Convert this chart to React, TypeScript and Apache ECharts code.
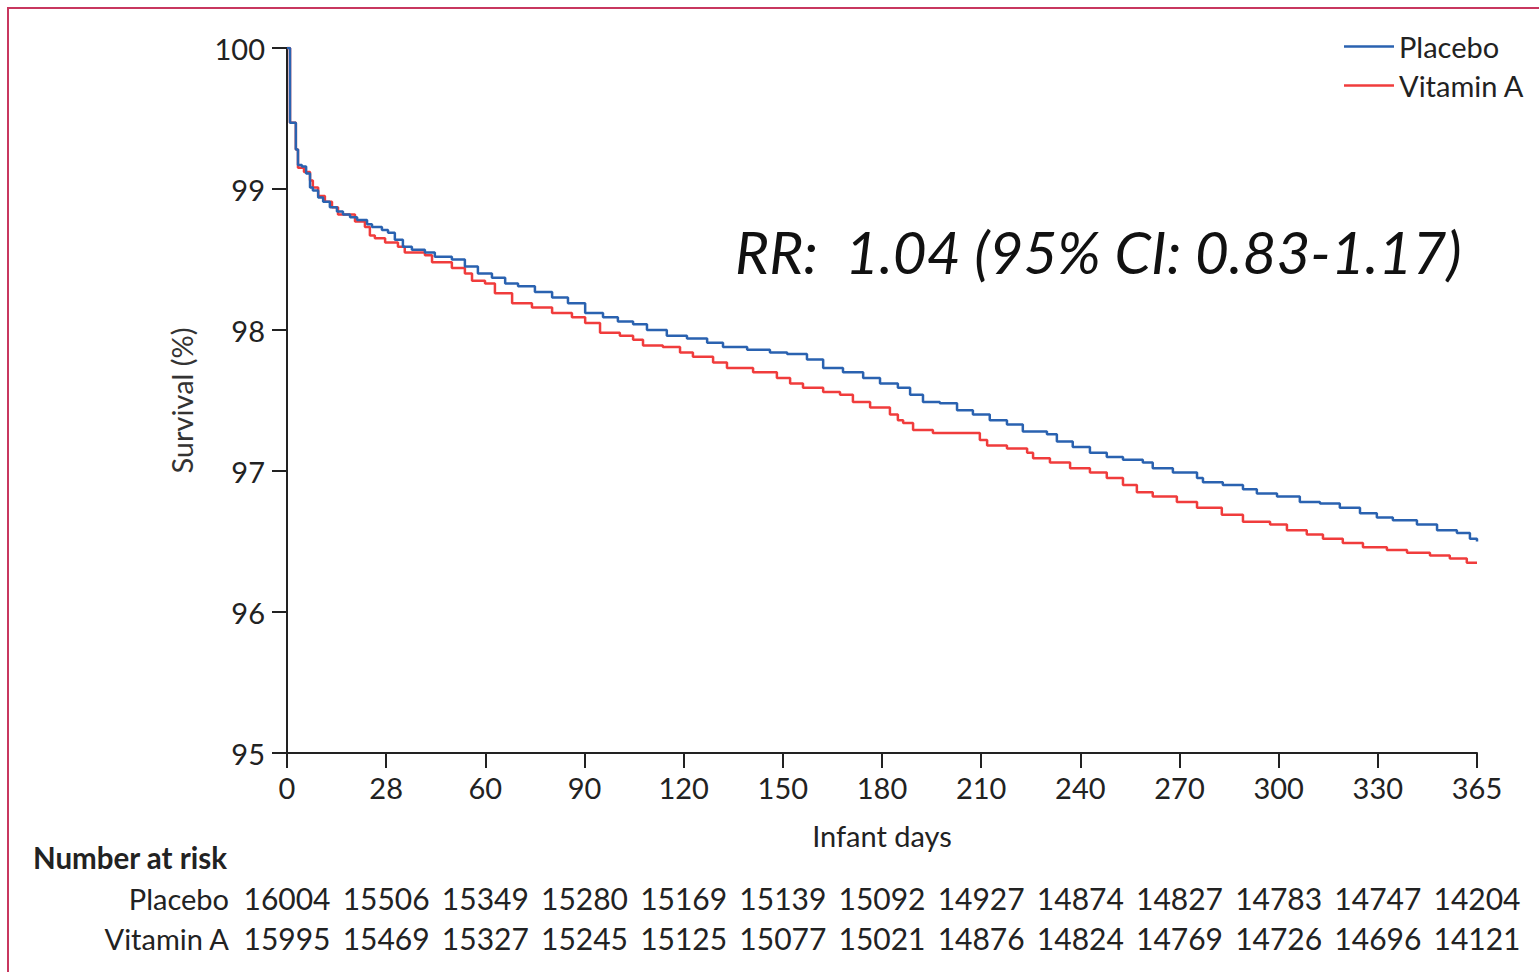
import React, { useEffect, useRef } from "react";
import * as echarts from "echarts";

// x-axis ticks (days) — drawn equally spaced, as in the reference
const tickDays = [0, 28, 60, 90, 120, 150, 180, 210, 240, 270, 300, 330, 365];
const yTicks = [95, 96, 97, 98, 99, 100];

const placeboAtRisk = [16004, 15506, 15349, 15280, 15169, 15139, 15092, 14927, 14874, 14827, 14783, 14747, 14204];
const vitaminAAtRisk = [15995, 15469, 15327, 15245, 15125, 15077, 15021, 14876, 14824, 14769, 14726, 14696, 14121];

// Kaplan–Meier estimates (day, survival %)
const placeboDays = [0, 0.85, 2.5, 3.1, 4.2, 5.4, 6.5, 7.3, 8.8, 10.2, 12.1, 14.1, 15.8, 17.8, 19.8, 22.6, 24.0, 26.8, 28.6, 30.8, 33.4, 36.3, 40.5, 43.7, 49.2, 53.4, 57.6, 62.0, 66.0, 69.9, 75.0, 80.2, 85.0, 90.2, 95.6, 100.1, 104.7, 108.9, 114.9, 121.0, 127.1, 131.9, 139.2, 146.1, 151.3, 157.3, 162.2, 168.2, 174.3, 179.4, 184.8, 188.5, 192.4, 197.5, 202.7, 207.5, 212.6, 217.8, 222.6, 229.9, 232.9, 237.7, 242.9, 248.0, 252.9, 258.9, 261.9, 268.0, 275.3, 277.1, 283.1, 289.2, 293.4, 299.5, 306.4, 312.5, 318.5, 324.6, 329.7, 335.3, 343.8, 350.9, 357.9, 362.5, 365];
const placeboSurv = [100, 99.47, 99.28, 99.17, 99.16, 99.11, 99.01, 98.99, 98.94, 98.91, 98.87, 98.84, 98.82, 98.80, 98.78, 98.75, 98.73, 98.71, 98.69, 98.64, 98.59, 98.57, 98.55, 98.52, 98.50, 98.45, 98.40, 98.37, 98.33, 98.31, 98.27, 98.23, 98.19, 98.12, 98.09, 98.06, 98.04, 98.00, 97.96, 97.94, 97.91, 97.88, 97.86, 97.84, 97.83, 97.79, 97.73, 97.70, 97.66, 97.62, 97.59, 97.54, 97.49, 97.48, 97.43, 97.40, 97.36, 97.33, 97.28, 97.26, 97.21, 97.17, 97.13, 97.10, 97.08, 97.06, 97.02, 96.99, 96.95, 96.92, 96.90, 96.87, 96.84, 96.82, 96.78, 96.77, 96.74, 96.70, 96.67, 96.65, 96.62, 96.58, 96.56, 96.52, 96.50];

const vitaminADays = [0, 0.85, 2.5, 3.1, 4.8, 6.5, 7.3, 8.8, 10.7, 12.7, 14.4, 19.2, 22.0, 23.4, 24.8, 27.7, 31.8, 34.0, 40.5, 42.8, 49.2, 53.4, 55.7, 59.9, 62.9, 68.1, 74.1, 80.2, 86.2, 90.2, 94.7, 100.7, 104.7, 107.7, 113.7, 118.9, 122.8, 128.9, 133.1, 141.0, 148.2, 152.2, 156.1, 162.2, 167.3, 171.2, 176.4, 182.4, 184.8, 186.4, 189.4, 195.4, 209.6, 211.8, 217.8, 223.9, 225.7, 230.8, 236.9, 242.9, 248.0, 252.9, 257.1, 261.9, 269.2, 275.3, 279.2, 282.8, 289.2, 297.4, 302.5, 308.5, 313.4, 319.4, 325.5, 333.2, 340.3, 348.4, 355.4, 361.4, 365];
const vitaminASurv = [100, 99.47, 99.28, 99.15, 99.12, 99.06, 99.01, 98.95, 98.91, 98.87, 98.82, 98.77, 98.73, 98.67, 98.65, 98.62, 98.59, 98.55, 98.53, 98.48, 98.44, 98.40, 98.35, 98.33, 98.26, 98.19, 98.16, 98.12, 98.09, 98.05, 97.98, 97.96, 97.93, 97.89, 97.88, 97.84, 97.81, 97.77, 97.73, 97.70, 97.66, 97.62, 97.59, 97.56, 97.54, 97.49, 97.45, 97.40, 97.36, 97.34, 97.29, 97.27, 97.22, 97.18, 97.16, 97.13, 97.09, 97.06, 97.02, 96.99, 96.95, 96.90, 96.85, 96.82, 96.78, 96.74, 96.74, 96.69, 96.64, 96.62, 96.58, 96.55, 96.52, 96.49, 96.46, 96.44, 96.42, 96.40, 96.38, 96.35, 96.35];

const seriesNames = ["Placebo", "Vitamin A"];
const rrText = "RR:  1.04 (95% CI: 0.83-1.17)";

function dayToPos(d: number): number {
  for (let i = 0; i < tickDays.length - 1; i++) {
    if (d <= tickDays[i + 1]) {
      return i + (d - tickDays[i]) / (tickDays[i + 1] - tickDays[i]);
    }
  }
  return tickDays.length - 1;
}

const FONT = "Lato, 'Open Sans', sans-serif";
const TXT = "#222";
const BLUE = "#2a62b0";
const RED = "#f03c3c";

export default function App() {
  const ref = useRef<HTMLDivElement>(null);
  useEffect(() => {
    if (!ref.current) return;
    const chart = echarts.init(ref.current, undefined, { renderer: "svg" });
    const lastIdx = tickDays.length - 1;
    const baseX = {
      type: "value" as const,
      min: 0,
      max: lastIdx,
      interval: 1,
      splitLine: { show: false },
    };
    const riskLabel = (arr: number[]) => ({
      fontSize: 30,
      color: TXT,
      margin: 0,
      showMinLabel: true,
      showMaxLabel: true,
      hideOverlap: false,
      formatter: (v: number) => String(arr[Math.round(v)]),
    });
    chart.setOption({
      animation: false,
      backgroundColor: "#fff",
      textStyle: { fontFamily: FONT },
      grid: { left: 287, top: 48, width: 1190, height: 705, containLabel: false, outerBoundsMode: "none" },
      legend: {
        orient: "vertical",
        left: 1339,
        top: 27,
        icon: "rect",
        itemWidth: 50,
        itemHeight: 2.5,
        itemGap: 10,
        textStyle: { fontSize: 29, color: TXT, fontFamily: FONT },
        data: seriesNames,
      },
      xAxis: [
        {
          ...baseX,
          name: "Infant days",
          nameLocation: "middle",
          nameGap: 68,
          nameTextStyle: { fontSize: 29, color: TXT, fontFamily: FONT },
          axisLine: { show: true, lineStyle: { color: "#222", width: 2 } },
          axisTick: { show: true, length: 15, lineStyle: { color: "#222", width: 2 } },
          axisLabel: {
            fontSize: 29,
            color: TXT,
            margin: 20,
            showMinLabel: true,
            showMaxLabel: true,
            formatter: (v: number) => String(tickDays[Math.round(v)]),
          },
        },
        {
          ...baseX,
          position: "bottom",
          offset: 130,
          axisLine: { show: false },
          axisTick: { show: false },
          axisLabel: riskLabel(placeboAtRisk),
        },
        {
          ...baseX,
          position: "bottom",
          offset: 170,
          axisLine: { show: false },
          axisTick: { show: false },
          axisLabel: riskLabel(vitaminAAtRisk),
        },
      ],
      yAxis: {
        type: "value",
        min: yTicks[0],
        max: yTicks[yTicks.length - 1],
        interval: 1,
        name: "Survival (%)",
        nameLocation: "middle",
        nameGap: 91,
        nameTextStyle: { fontSize: 29, color: "#333", fontFamily: FONT },
        splitLine: { show: false },
        axisLine: { show: true, lineStyle: { color: "#222", width: 2 } },
        axisTick: { show: true, length: 15, lineStyle: { color: "#222", width: 2 } },
        axisLabel: { fontSize: 29, color: TXT, margin: 22 },
      },
      series: [
        {
          name: seriesNames[0],
          type: "line",
          step: "end",
          symbol: "none",
          xAxisIndex: 0,
          color: BLUE,
          itemStyle: { color: BLUE },
          lineStyle: { color: BLUE, width: 2.5 },
          data: placeboDays.map((d, i) => [dayToPos(d), placeboSurv[i]]),
          z: 3,
        },
        {
          name: seriesNames[1],
          type: "line",
          step: "end",
          symbol: "none",
          xAxisIndex: 0,
          color: RED,
          itemStyle: { color: RED },
          lineStyle: { color: RED, width: 2.5 },
          data: vitaminADays.map((d, i) => [dayToPos(d), vitaminASurv[i]]),
          z: 2,
        },
      ],
      graphic: [
        {
          type: "rect",
          shape: { x: 8, y: 8, width: 2000, height: 2000 },
          style: { fill: "none", stroke: "#c8375f", lineWidth: 2 },
          silent: true,
        },
        {
          type: "text",
          x: 735,
          y: 251,
          style: {
            text: rrText,
            fontSize: 58.5,
            fontStyle: "italic",
            fontFamily: FONT,
            fill: "#111",
            textAlign: "left",
            textVerticalAlign: "middle",
          },
        },
        {
          type: "text",
          x: 33,
          y: 857,
          style: {
            text: "Number at risk",
            fontSize: 29.5,
            fontWeight: "bold",
            fontFamily: FONT,
            fill: TXT,
            textAlign: "left",
            textVerticalAlign: "middle",
          },
        },
        {
          type: "text",
          x: 229,
          y: 898,
          style: { text: seriesNames[0], fontSize: 29, fontFamily: FONT, fill: TXT, textAlign: "right", textVerticalAlign: "middle" },
        },
        {
          type: "text",
          x: 229,
          y: 938,
          style: { text: seriesNames[1], fontSize: 29, fontFamily: FONT, fill: TXT, textAlign: "right", textVerticalAlign: "middle" },
        },
      ],
    });
    return () => chart.dispose();
  }, []);
  return (
    <div
      ref={ref}
      style={{ position: "fixed", left: 0, top: 0, width: 1539, height: 972, background: "#fff" }}
    />
  );
}
